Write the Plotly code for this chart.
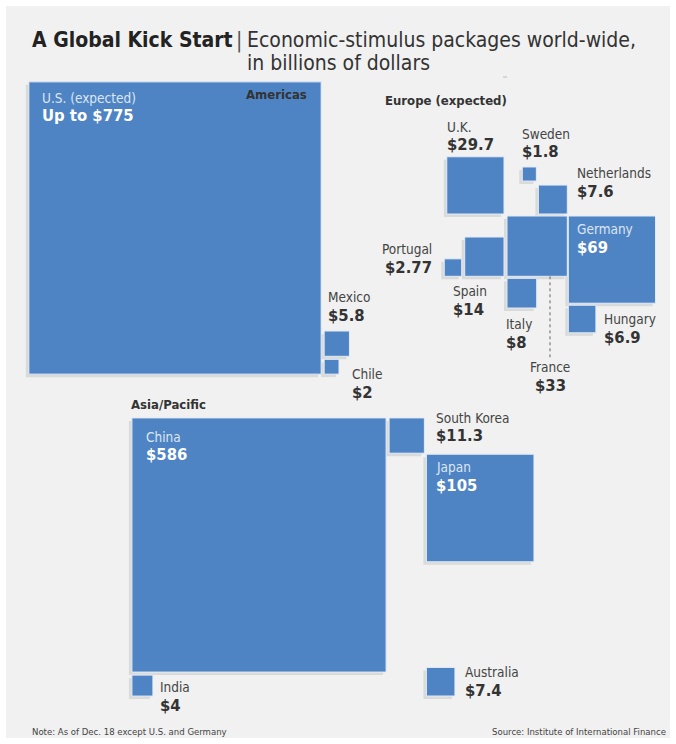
import math
import plotly.graph_objects as go

# ---------------- data ----------------
americas_names = ["U.S. (expected)", "Mexico", "Chile"]
americas_values = [775, 5.8, 2]
americas_labels = ["Up to $775", "$5.8", "$2"]

europe_names = ["U.K.", "Sweden", "Netherlands", "France", "Germany",
                "Portugal", "Spain", "Italy", "Hungary"]
europe_values = [29.7, 1.8, 7.6, 33, 69, 2.77, 14, 8, 6.9]
europe_labels = ["$29.7", "$1.8", "$7.6", "$33", "$69", "$2.77", "$14", "$8", "$6.9"]

asia_names = ["China", "South Korea", "Japan", "India", "Australia"]
asia_values = [586, 11.3, 105, 4, 7.4]
asia_labels = ["$586", "$11.3", "$105", "$4", "$7.4"]

# ---------------- style ----------------
W, H = 676, 744
K = 10.5  # pixels per sqrt(billion $)
BLUE = "#4f84c4"
SHADOW = "#d9dbdb"
BG = "#f0f1f0"
DARK = "#333333"
FONT = "DejaVu Sans Condensed, Liberation Sans Narrow, Roboto, sans-serif"

val = {}
lab = {}
for n, v, l in zip(americas_names + europe_names + asia_names,
                   americas_values + europe_values + asia_values,
                   americas_labels + europe_labels + asia_labels):
    val[n] = v
    lab[n] = l

R = {}


def place(name, left=None, right=None, top=None, bottom=None, cx=None, cy=None):
    s = K * math.sqrt(val[name])
    if cx is not None:
        left = cx - s / 2
    if cy is not None:
        top = cy - s / 2
    if left is None:
        left = right - s
    if top is None:
        top = bottom - s
    R[name] = dict(l=left, t=top, r=left + s, b=top + s)
    return R[name]


# Americas
us = place("U.S. (expected)", cx=175, cy=228)
ch = place("Chile", left=us["r"] + 3, bottom=us["b"])
mx = place("Mexico", left=us["r"] + 3, bottom=ch["t"] - 3)

# Europe
fr = place("France", left=507, top=216)
de = place("Germany", left=fr["r"] + 1, top=fr["t"])
hu = place("Hungary", left=de["l"], top=de["b"] + 2)
it = place("Italy", left=fr["l"], top=fr["b"] + 2)
es = place("Spain", right=fr["l"] - 3, bottom=fr["b"])
pt = place("Portugal", right=es["l"] - 3, bottom=fr["b"])
uk = place("U.K.", right=fr["l"] - 3, bottom=fr["t"] - 2)
nl = place("Netherlands", right=fr["r"], bottom=fr["t"] - 2)
se = place("Sweden", right=nl["l"] - 2, bottom=nl["t"] - 4)

# Asia/Pacific
cn = place("China", cx=259, cy=545)
kr = place("South Korea", left=cn["r"] + 3, top=cn["t"])
jp = place("Japan", left=kr["r"] + 2, top=kr["b"] + 1)
ind = place("India", left=cn["l"], top=cn["b"] + 3)
au = place("Australia", left=jp["l"], bottom=696)

fig = go.Figure()
fig.add_trace(go.Scatter(x=[0, W], y=[0, H], mode="markers",
                         marker=dict(opacity=0), hoverinfo="skip", showlegend=False))

shapes = []
# panel background
shapes.append(dict(type="rect", xref="x", yref="y", x0=6, x1=670, y0=6, y1=738,
                   fillcolor=BG, line=dict(width=0), layer="below"))
for n, r in R.items():
    shapes.append(dict(type="rect", xref="x", yref="y",
                       x0=r["l"] - 3, x1=r["r"] - 3, y0=r["t"] + 3, y1=r["b"] + 3,
                       fillcolor=SHADOW, line=dict(width=0), layer="below"))
for n, r in R.items():
    shapes.append(dict(type="rect", xref="x", yref="y",
                       x0=r["l"], x1=r["r"], y0=r["t"], y1=r["b"],
                       fillcolor=BLUE, line=dict(color="#e4ebf5", width=1), layer="below"))
# France leader line
fx = fr["l"] + 43
shapes.append(dict(type="line", xref="x", yref="y", x0=fx, x1=fx,
                   y0=fr["b"], y1=fr["b"] + 82,
                   line=dict(color="#666666", width=1, dash="dot")))
# small tick under the subtitle
shapes.append(dict(type="line", xref="x", yref="y", x0=503, x1=507, y0=77, y1=77,
                   line=dict(color="#bbbbbb", width=1)))

ann = []


def text(x, y, s, size=14, color=DARK, bold=False, anchor="left"):
    if bold:
        s = "<b>" + s + "</b>"
    ann.append(dict(x=x, y=y, xref="x", yref="y", text=s, showarrow=False,
                    xanchor=anchor, yanchor="middle",
                    font=dict(family=FONT, size=size, color=color)))


def pair(name, x, y, light=False, anchor="left", gap=18):
    text(x, y, name, 13.5, "#dce6f2" if light else "#444444", anchor=anchor)
    text(x, y + gap, lab[name], 16.5, "white" if light else DARK, bold=True, anchor=anchor)


# titles
text(30, 40, "A Global Kick Start", 21, "#222222", bold=True)
text(234, 40, "|", 21, "#555555")
text(245, 40, "Economic-stimulus packages world-wide,", 21, "#333333")
text(245, 63, "in billions of dollars", 21, "#333333")

# Americas
text(us["r"] - 12, us["t"] + 13, "Americas", 13, DARK, bold=True, anchor="right")
pair("U.S. (expected)", us["l"] + 11, us["t"] + 16, light=True)
pair("Mexico", mx["l"] + 2, mx["t"] - 34)
pair("Chile", ch["r"] + 11, ch["b"] + 0)

# Europe
text(383, 100, "Europe (expected)", 13, DARK, bold=True)
pair("U.K.", uk["l"] - 2, uk["t"] - 30)
pair("Sweden", se["l"] - 2, se["t"] - 33)
pair("Netherlands", nl["r"] + 8, nl["t"] - 12)
pair("Germany", de["l"] + 7, de["t"] + 13, light=True)
pair("Portugal", pt["l"] - 10, pt["b"] - 27, anchor="right")
pair("Spain", es["l"] - 14, es["b"] + 15)
pair("Italy", it["l"] - 3, it["b"] + 16)
pair("Hungary", hu["r"] + 6, hu["t"] + 14)
pair("France", fx, fr["b"] + 91, anchor="center")

# Asia/Pacific
text(cn["l"] - 3, cn["t"] - 13, "Asia/Pacific", 13, DARK, bold=True)
pair("China", cn["l"] + 12, cn["t"] + 19, light=True)
pair("South Korea", kr["r"] + 10, kr["t"])
pair("Japan", jp["l"] + 8, jp["t"] + 13, light=True)
pair("India", ind["r"] + 5, ind["t"] + 12)
pair("Australia", au["r"] + 8, au["t"] + 5)

# footer
text(30, 731, "Note: As of Dec. 18 except U.S. and Germany", 9.5, "#444444")
text(668, 731, "Source: Institute of International Finance", 9.5, "#444444", anchor="right")

fig.update_layout(
    width=W, height=H, margin=dict(l=0, r=0, t=0, b=0),
    paper_bgcolor="white", plot_bgcolor="white",
    xaxis=dict(range=[0, W], visible=False, fixedrange=True),
    yaxis=dict(range=[H, 0], visible=False, fixedrange=True),
    shapes=shapes, annotations=ann, showlegend=False,
)
fig.write_html("out.html")
